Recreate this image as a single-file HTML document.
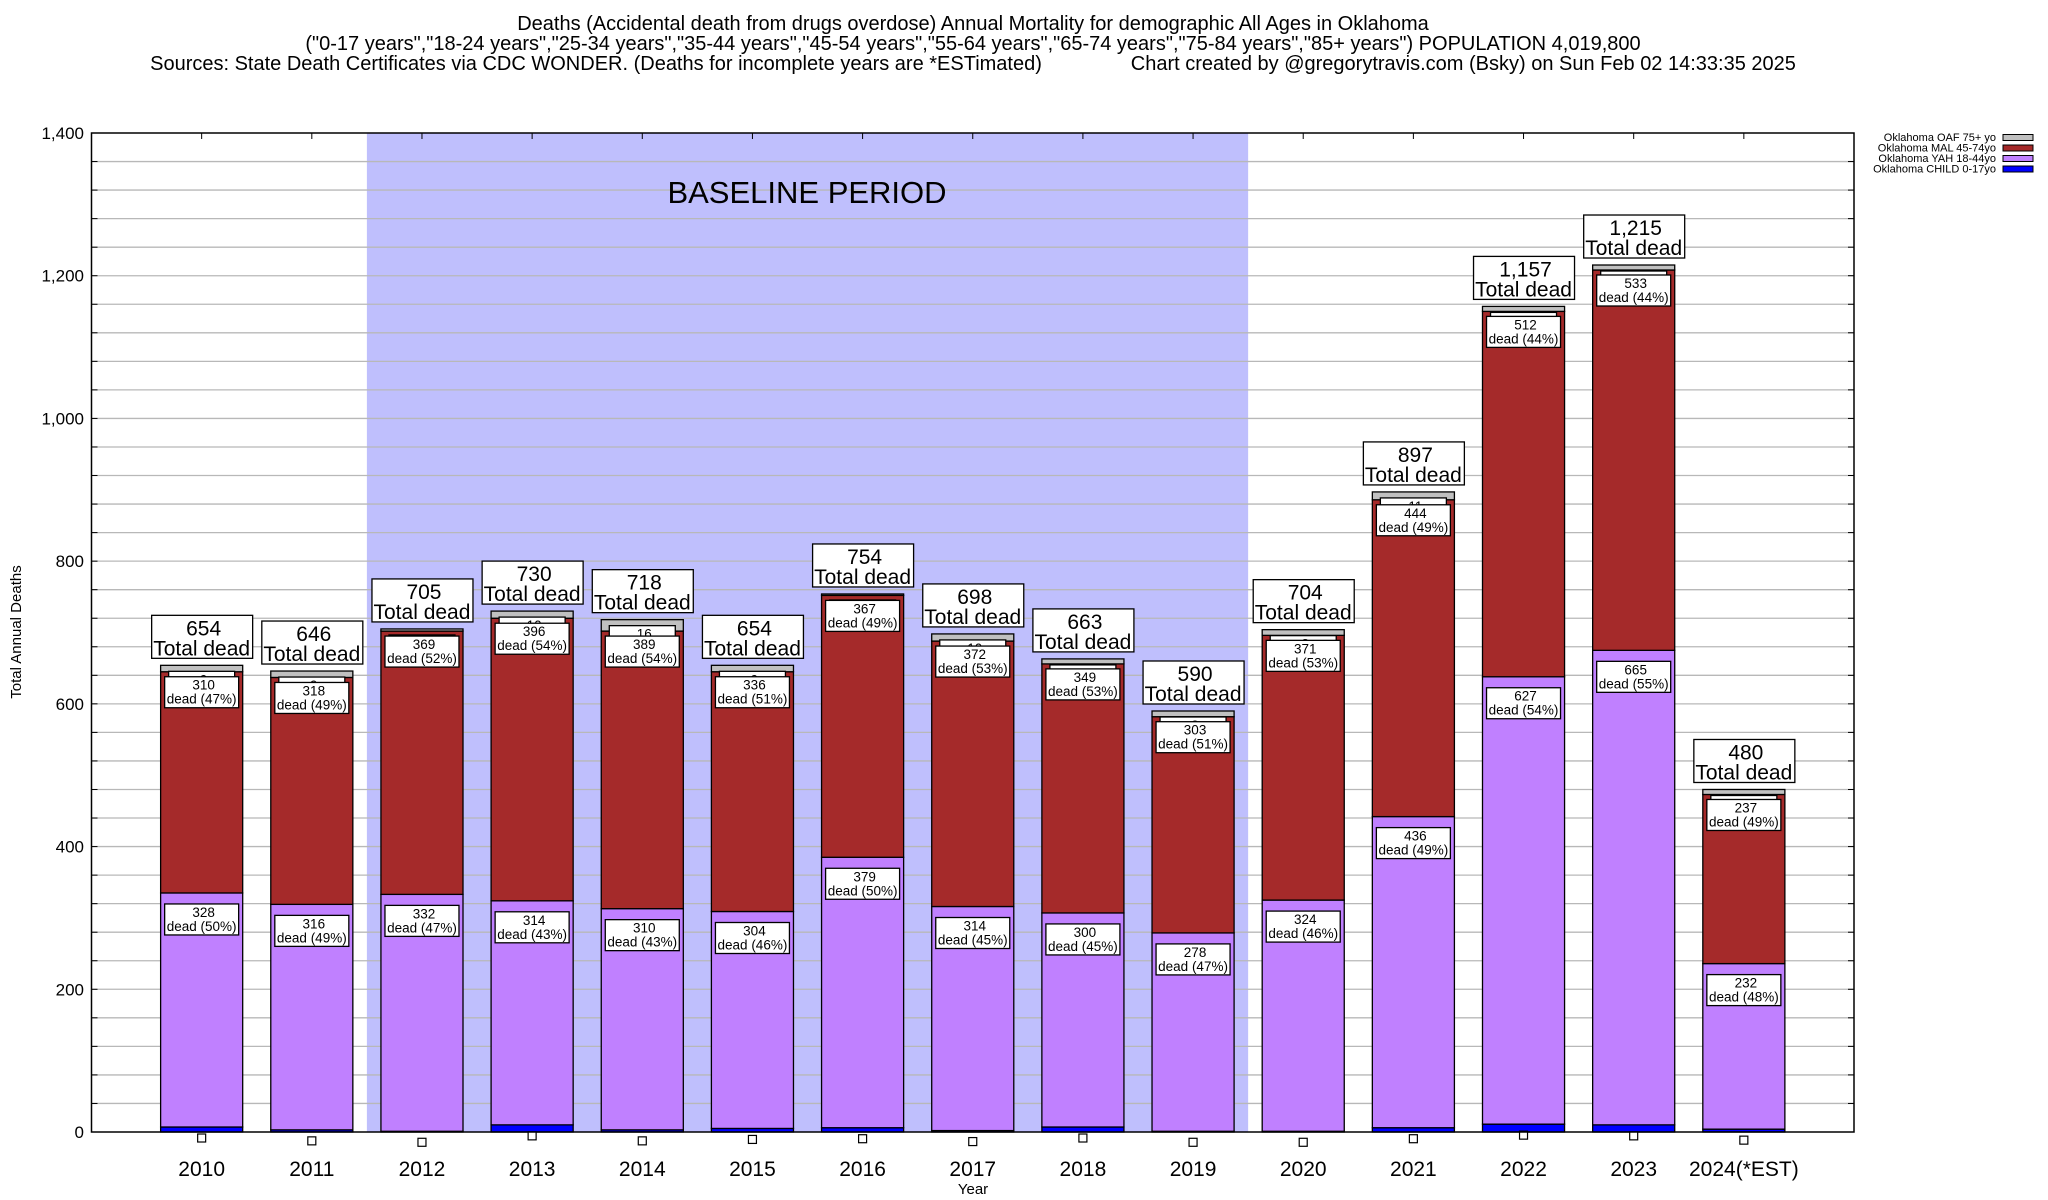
<!DOCTYPE html>
<html><head><meta charset="utf-8">
<style>
html,body{margin:0;padding:0;background:#fff;}
svg{display:block;font-family:"Liberation Sans",Arial,sans-serif;}
</style></head>
<body>
<svg id="chart" width="2048" height="1200" viewBox="0 0 2048 1200" xmlns="http://www.w3.org/2000/svg">
<g font-size="20" text-anchor="middle" fill="#000">
<text x="973" y="30">Deaths (Accidental death from drugs overdose) Annual Mortality for demographic All Ages in Oklahoma</text>
<text x="973" y="50">("0-17 years","18-24 years","25-34 years","35-44 years","45-54 years","55-64 years","65-74 years","75-84 years","85+ years") POPULATION 4,019,800</text>
<text x="973" y="70" xml:space="preserve">Sources: State Death Certificates via CDC WONDER. (Deaths for incomplete years are *ESTimated)                Chart created by @gregorytravis.com (Bsky) on Sun Feb 02 14:33:35 2025</text>
</g>
<g id="plot"></g>
</svg>
<script>
const categories = ["2010","2011","2012","2013","2014","2015","2016","2017","2018","2019","2020","2021","2022","2023","2024(*EST)"];
const totals = [654,646,705,730,718,654,754,698,663,590,704,897,1157,1215,480];
const childVals = [7,3,1,10,3,5,6,2,7,1,1,6,11,10,4];
const yahVals = [328,316,332,314,310,304,379,314,300,278,324,436,627,665,232];
const malVals = [310,318,369,396,389,336,367,372,349,303,371,444,512,533,237];
const oafVals = [9,9,3,10,16,9,2,10,7,8,8,11,7,7,7];
const yTicks = [0,200,400,600,800,1000,1200,1400];
const yTickLabels = ["0","200","400","600","800","1,000","1,200","1,400"];
const baselineRange = [1.5, 9.5];

const L=91.5,R=1854,T=133,B=1132,YMAX=1400;
const slot=(R-L)/16;
const NS="http://www.w3.org/2000/svg";
const plot=document.getElementById('plot');
function y(v){return B-(v/YMAX)*(B-T);}
function xc(i){return L+(i+1)*slot;}
function el(tag,attrs,parent,text){const e=document.createElementNS(NS,tag);for(const k in attrs)e.setAttribute(k,attrs[k]);if(text!==undefined)e.textContent=text;(parent||plot).appendChild(e);return e;}
function fmt(n){return n.toLocaleString('en-US');}

// baseline shading
let bp=el('rect',{x:xc(baselineRange[0]),y:T,width:xc(baselineRange[1])-xc(baselineRange[0]),height:B-T,fill:'#bfbffd'});



// grid lines
for(let v=40;v<YMAX;v+=40){
  let g=el('line',{x1:L,x2:R,y1:y(v),y2:y(v),stroke:'#b8b8b8','stroke-width':1.3});
  
  
  el('line',{x1:L,x2:L+6,y1:y(v),y2:y(v),stroke:'#000'});
  el('line',{x1:R-6,x2:R,y1:y(v),y2:y(v),stroke:'#000'});
}
let bt=el('text',{x:807,y:203,'font-size':31,'text-anchor':'middle'},plot,'BASELINE PERIOD');


// y ticks
yTicks.forEach((v,i)=>{
  let t=el('text',{x:84,y:y(v)+6,'font-size':17,'text-anchor':'end'},plot,yTickLabels[i]);
  
  
});
let yt=el('text',{x:0,y:0,'font-size':15,'text-anchor':'middle',transform:'translate(21,632) rotate(-90)'},plot,'Total Annual Deaths');


let xt=el('text',{x:973,y:1194,'font-size':15,'text-anchor':'middle'},plot,'Year');



const colors={child:'#0000ff',yah:'#c080ff',mal:'#a52a2a',oaf:'#c0c0c0'};
const bw=slot*0.745;
function smallBox(cx,top,w,l1,l2,name){
  let g=el('g',{});
  
  
  el('rect',{x:cx-w/2,y:top,width:w,height:l2?31:20,fill:'#fff',stroke:'#000','stroke-width':1.3},g);
  el('text',{x:cx+2,y:top+13,'font-size':13.5,'text-anchor':'middle'},g,l1);
  if(l2) el('text',{x:cx,y:top+27,'font-size':13.5,'text-anchor':'middle'},g,l2);
}
categories.forEach((c,i)=>{
  const cx=xc(i),x0=cx-bw/2;
  const segs=[['child',childVals[i]],['yah',yahVals[i]],['mal',malVals[i]],['oaf',oafVals[i]]];
  let acc=0;
  const g=el('g',{});
  
  
  segs.forEach(([k,v])=>{
    const r=el('rect',{x:x0,y:y(acc+v),width:bw,height:y(acc)-y(acc+v),fill:colors[k],stroke:'#000','stroke-width':1.3},g);
    
    
    acc+=v;
  });
  const tot=totals[i];
  const ytop=y(childVals[i]+yahVals[i]+malVals[i]+oafVals[i]);
  smallBox(cx,ytop+6,66,String(oafVals[i]),null,'oaf-label');
  const malTop=y(childVals[i]+yahVals[i]+malVals[i]);
  smallBox(cx,malTop+5,74,String(malVals[i]),'dead ('+Math.round(malVals[i]/tot*100)+'%)','mal-label');
  const yahTop=y(childVals[i]+yahVals[i]);
  smallBox(cx,yahTop+11,74,String(yahVals[i]),'dead ('+Math.round(yahVals[i]/tot*100)+'%)','yah-label');
  const m=el('rect',{x:cx-4,y:y(childVals[i])+7,width:8,height:8,fill:'#fff',stroke:'#000','stroke-width':1.2});
  
  
  const tg=el('g',{});
  
  
  const ty=y(tot)-7-43;
  el('rect',{x:cx-50,y:ty,width:101,height:43,fill:'#fff',stroke:'#000','stroke-width':1.3},tg);
  el('text',{x:cx+2,y:ty+20,'font-size':21,'text-anchor':'middle'},tg,fmt(tot));
  el('text',{x:cx,y:ty+40,'font-size':21,'text-anchor':'middle'},tg,'Total dead');
  const xl=el('text',{x:cx,y:1176,'font-size':21,'text-anchor':'middle'},plot,c);
  
  
  el('line',{x1:cx,x2:cx,y1:T,y2:T+6,stroke:'#000'});
});
let fr=el('rect',{x:L,y:T,width:R-L,height:B-T,fill:'none',stroke:'#000','stroke-width':1.5});



const legendNames=['Oklahoma OAF 75+ yo','Oklahoma MAL 45-74yo','Oklahoma YAH 18-44yo','Oklahoma CHILD 0-17yo'];
const legendColors=[colors.oaf,colors.mal,colors.yah,colors.child];
legendNames.forEach((n,i)=>{
  const g=el('g',{});
  
  
  const ly=137+i*10.5;
  el('text',{x:1996,y:ly+4,'font-size':11,'text-anchor':'end'},g,n);
  el('rect',{x:2003,y:ly-2.5,width:30,height:6,fill:legendColors[i],stroke:'#000','stroke-width':1},g);
});
</script>
</body></html>
